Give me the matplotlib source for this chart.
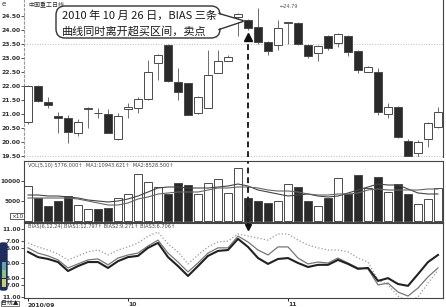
import matplotlib
matplotlib.use("Agg")
import matplotlib.pyplot as plt
from matplotlib.patches import FancyBboxPatch, Rectangle, Polygon
import numpy as np

plt.rcParams['font.family'] = ['DejaVu Sans', 'Noto Sans CJK SC']
CJK = ['Noto Sans CJK SC', 'DejaVu Sans']

# daily candles, 2010/09 .. 2010/11
opens = [20.71, 22.00, 21.43, 20.93, 20.86, 20.32, 21.18, 21.04, 21.00, 20.10,
         21.18, 21.21, 21.54, 22.82, 23.46, 22.14, 22.10, 21.04, 21.21, 22.46,
         22.89, 24.45, 24.36, 24.11, 23.57, 23.46, 24.24, 24.25, 23.46, 23.18,
         23.79, 23.54, 23.79, 23.25, 22.50, 22.50, 21.00, 21.25, 20.04, 19.61,
         20.10, 20.54]
closes = [22.00, 21.46, 21.32, 20.86, 20.36, 20.71, 21.22, 21.02, 20.32, 20.93,
          21.25, 21.54, 22.50, 23.10, 22.18, 21.79, 20.96, 21.61, 22.39, 22.89,
          23.04, 24.57, 24.07, 23.57, 23.25, 24.07, 24.26, 23.50, 23.07, 23.43,
          23.36, 23.86, 23.21, 22.57, 22.68, 21.07, 21.25, 20.18, 19.50, 20.00,
          20.68, 21.07]
highs = [22.05, 22.02, 21.60, 21.07, 20.96, 20.82, 21.24, 21.21, 21.18, 21.04,
         21.39, 21.61, 22.93, 23.15, 23.50, 22.64, 22.12, 21.65, 23.29, 23.29,
         23.11, 24.60, 24.38, 24.79, 23.60, 24.36, 24.30, 24.30, 23.50, 23.45,
         23.82, 23.90, 23.82, 23.28, 22.72, 22.64, 21.40, 21.30, 20.10, 20.05,
         20.70, 21.25]
lows = [20.65, 21.44, 21.20, 20.32, 19.96, 20.21, 20.50, 20.86, 20.30, 20.08,
        20.86, 21.04, 21.50, 22.20, 22.15, 21.50, 20.95, 21.00, 21.20, 22.45,
        22.88, 23.80, 24.00, 23.50, 23.10, 23.29, 23.50, 23.45, 23.00, 22.90,
        23.30, 23.40, 23.07, 22.46, 22.48, 20.96, 20.85, 20.15, 19.45, 19.45,
        19.80, 20.50]

volume = [8750, 5750, 3750, 5000, 6250, 4000, 3000, 3000, 3250, 5750,
          6750, 11750, 9750, 8500, 6750, 9500, 9000, 6750, 9500, 10500,
          7000, 13250, 5750, 5000, 4500, 5000, 9250, 8500, 5000, 3750,
          5750, 10750, 6750, 11500, 8250, 11000, 7250, 9250, 6750, 4250,
          5500, 8250]
vol_ma5 = [6500, 6500, 6250, 6250, 6000, 5750, 5250, 5000, 4750, 5000,
           5500, 6250, 7250, 8250, 8500, 8500, 8250, 8250, 8250, 8500,
           8750, 9250, 8750, 7750, 7250, 6750, 6250, 6500, 6750, 6250,
           6000, 6250, 7000, 7750, 8500, 9250, 9000, 9000, 8000, 7000,
           6750, 6750]
vol_ma10 = [5750, 5750, 5750, 5750, 5750, 5500, 5000, 4500, 4000, 4000,
            4500, 5500, 6000, 6750, 7000, 7250, 7250, 7250, 7750, 8250,
            8250, 8500, 8500, 8250, 7750, 7500, 7500, 7250, 6750, 6500,
            6500, 6750, 6750, 7000, 7750, 8000, 7750, 7750, 7750, 7750,
            8000, 8000]

bias1 = [3.6, 1.9, 1.3, 0.3, -2.6, -1.0, 0.3, 0.3, -1.6, 0.6,
         1.9, 2.3, 4.9, 6.5, 1.9, -1.0, -4.2, -1.0, 2.3, 3.9,
         4.2, 7.8, 5.2, 1.6, -0.3, 1.3, 1.6, 0.0, -1.3, -0.6,
         -0.6, 1.0, -0.3, -1.9, -1.6, -5.8, -4.9, -6.8, -7.4, -3.6,
         0.3, 2.6]
bias2 = [4.9, 3.2, 2.3, 1.0, -1.6, -0.3, 1.0, 1.3, -0.6, 1.6,
         2.6, 3.2, 5.5, 7.4, 3.2, 0.3, -2.9, 0.0, 3.2, 4.9,
         4.9, 8.7, 6.8, 4.2, 2.6, 5.2, 5.2, 1.6, -0.3, 0.3,
         0.0, 1.6, 0.0, -1.6, -1.9, -7.1, -6.5, -9.4, -10.7, -8.1,
         -4.5, -1.6]
bias3 = [6.5, 5.2, 4.2, 2.9, 1.0, 2.3, 3.6, 4.2, 2.6, 4.2,
         5.2, 6.5, 8.7, 10.0, 6.2, 3.6, -0.3, 2.6, 5.2, 6.8,
         7.1, 9.4, 8.7, 8.1, 7.4, 9.4, 9.4, 7.4, 5.8, 4.9,
         4.2, 4.2, 3.6, 1.6, 0.3, -5.5, -7.1, -10.7, -12.6, -11.0,
         -6.5, -2.3]

price_ticks = [19.5, 20.0, 20.5, 21.0, 21.5, 22.0, 22.5, 23.0, 23.5, 24.0, 24.5]
vol_ticks = [5000, 10000]
bias_ticks = [11, 7, 5, 0, -5, -7, -11]
bias_labels = ['11.00', '7.00', '5.00', '0.00', '5.00', '7.00', '11.00']
month_pos = [0, 10, 26]
month_labels = ['2010/09', '10', '11']
signal_day = 22   # 2010-10-26

W, H = 446, 307
fig = plt.figure(figsize=(W / 100, H / 100), dpi=100)


def px_axes(x0, y0, x1, y1):
    return fig.add_axes([x0 / W, 1 - y1 / H, (x1 - x0) / W, (y1 - y0) / H])


ax_p = px_axes(24, 0, 443, 157)
ax_v = px_axes(24, 161, 443, 222)
ax_b = px_axes(24, 223, 443, 298)

x = np.arange(len(opens))
dark = '#2a2a2a'
edge = '#4a4a4a'
tick_kw = dict(labelsize=4.4, length=2, width=0.6, pad=0.6, colors='#333333')

for ax in (ax_p, ax_v, ax_b):
    ax.set_xlim(-0.4, 41.5)
    for s in ax.spines.values():
        s.set_color('#444444')
        s.set_linewidth(0.8)
    ax.tick_params(axis='y', **tick_kw)

# ---- price panel
up = [c >= o for o, c in zip(opens, closes)]
ax_p.vlines(x, lows, highs, color='#555555', linewidth=0.6, zorder=2)
bott = [min(o, c) for o, c in zip(opens, closes)]
hgt = [max(abs(c - o), 0.03) for o, c in zip(opens, closes)]
ax_p.bar(x, hgt, bottom=bott, width=0.72,
         color=['white' if u else dark for u in up],
         edgecolor=edge, linewidth=0.7, zorder=3)
ax_p.set_ylim(19.46, 25.07)
ax_p.set_yticks(price_ticks)
ax_p.set_yticklabels(['%.2f' % v for v in price_ticks], fontweight='bold')
ax_p.set_xticks([])
ax_p.spines['top'].set_visible(False)
ax_p.spines['bottom'].set_visible(False)
ax_p.spines['left'].set_linestyle((0, (2, 2)))
ax_p.spines['left'].set_color('#999999')
for lv in (23.5, 19.5):
    ax_p.axhline(lv, color='#bbbbbb', linestyle=':', linewidth=0.7, zorder=1)
ax_p.text(25.2, 24.82, '\u219024.79', fontsize=3.6, color='#555555', va='center')
ax_p.text(0.0, 24.9, '中国重工日线', fontsize=4.3, color='#333333',
          family=CJK, va='center', ha='left')

# signal marker and dashed line
ax_p.plot([signal_day], [23.76], marker='^', color='#111111', markersize=5.5, zorder=5)
ax_p.vlines(signal_day, 19.46, 23.55, color='#222222', linewidth=1.4,
            linestyles=(0, (3, 2)), zorder=5)

# ---- volume panel
ax_v.bar(x, volume, width=0.75,
         color=['white' if u else dark for u in up],
         edgecolor=edge, linewidth=0.7, zorder=2)
ax_v.plot(x, vol_ma5, color='#444444', linewidth=0.8, zorder=3)
ax_v.plot(x, vol_ma10, color='#666666', linewidth=0.8, zorder=3)
ax_v.set_ylim(-250, 15000)
ax_v.set_yticks(vol_ticks)
ax_v.set_yticklabels([str(v) for v in vol_ticks], fontweight='bold', fontsize=4.2)
ax_v.set_xticks([])
ax_v.vlines(signal_day, -250, 15000, color='#222222', linewidth=1.4,
            linestyles=(0, (3, 2)), zorder=5)
ax_v.text(0.0, 14000, 'VOL(5,10) 5776.000\u2191  MA1:10943.621\u2191  MA2:8528.500\u2191',
          fontsize=3.6, color='#444444', va='center')

# ---- BIAS panel
ax_b.plot(x, bias3, color='#999999', linewidth=0.9, linestyle=':', zorder=2)
ax_b.plot(x, bias2, color='#777777', linewidth=0.9, zorder=3)
ax_b.plot(x, bias1, color='#222222', linewidth=1.5, zorder=4)
ax_b.set_ylim(-11.33, 12.94)
ax_b.set_yticks(bias_ticks)
ax_b.set_yticklabels(bias_labels, fontweight='bold', fontsize=4.2)
ax_b.set_xticks(month_pos)
ax_b.set_xticklabels(month_labels, fontsize=4.4, fontweight='bold', color='#333333',
                     ha='left')
ax_b.tick_params(axis='x', length=2, width=0.6, pad=1)
ax_b.plot([signal_day], [11.6], marker='v', color='#111111', markersize=5, zorder=6)
ax_b.vlines(signal_day, 11.6, 12.94, color='#222222', linewidth=1.4,
            linestyles=(0, (3, 2)), zorder=5)
ax_b.text(0.0, 11.9, 'BIAS(6,12,24) BIAS1:12.797\u2191 BIAS2:9.271\u2191 BIAS3:6.706\u2191',
          fontsize=3.6, color='#444444', va='center')

# ---- overlay in pixel coordinates for callout & decorations
ov = fig.add_axes([0, 0, 1, 1])
ov.set_xlim(0, W)
ov.set_ylim(H, 0)
ov.axis('off')

box = FancyBboxPatch((56, 6), 164, 32, boxstyle='round,pad=0,rounding_size=9',
                     facecolor='white', edgecolor='#333333', linewidth=1.0, zorder=10)
ov.add_patch(box)
ov.add_patch(Polygon([(218, 14), (243, 21), (218, 29)], closed=True,
                     facecolor='white', edgecolor='none', zorder=11))
ov.plot([219, 243], [13.5, 20.5], color='#333333', linewidth=1.0, zorder=12)
ov.plot([219, 243], [29.5, 21.5], color='#333333', linewidth=1.0, zorder=12)
ov.text(62, 15.5, '2010 年 10 月 26 日，BIAS 三条', fontsize=8, family=CJK,
        color='#1a1a1a', va='center', ha='left', zorder=13)
ov.text(62, 31, '曲线同时离开超买区间，卖点', fontsize=8, family=CJK,
        color='#1a1a1a', va='center', ha='left', zorder=13)

ov.text(2, 4, 'e', fontsize=5, color='#333333', va='center')
ov.text(11, 216, '×10', fontsize=4.2, color='#333333', va='center', ha='left',
        bbox=dict(boxstyle='square,pad=0.15', facecolor='white', edgecolor='#444444',
                  linewidth=0.6))
ov.text(1, 303.5, '日线▲', fontsize=4.2, family=CJK, color='#222222', va='center',
        bbox=dict(boxstyle='square,pad=0.05', facecolor='white', edgecolor='#444444',
                  linewidth=0.5))

# scroll widget at the left edge
ov.add_patch(FancyBboxPatch((0, 243), 7, 47, boxstyle='round,pad=0,rounding_size=2',
                            facecolor='#1f2d5c', edgecolor='#1f2d5c', zorder=3))
for y0, c in ((262, '#5fa8a8'), (270, '#8cc27a'), (279, '#c8d060')):
    ov.add_patch(Rectangle((1.5, y0), 4, 8, facecolor=c, edgecolor='none', zorder=4))

fig.savefig('out.png', dpi=100)
